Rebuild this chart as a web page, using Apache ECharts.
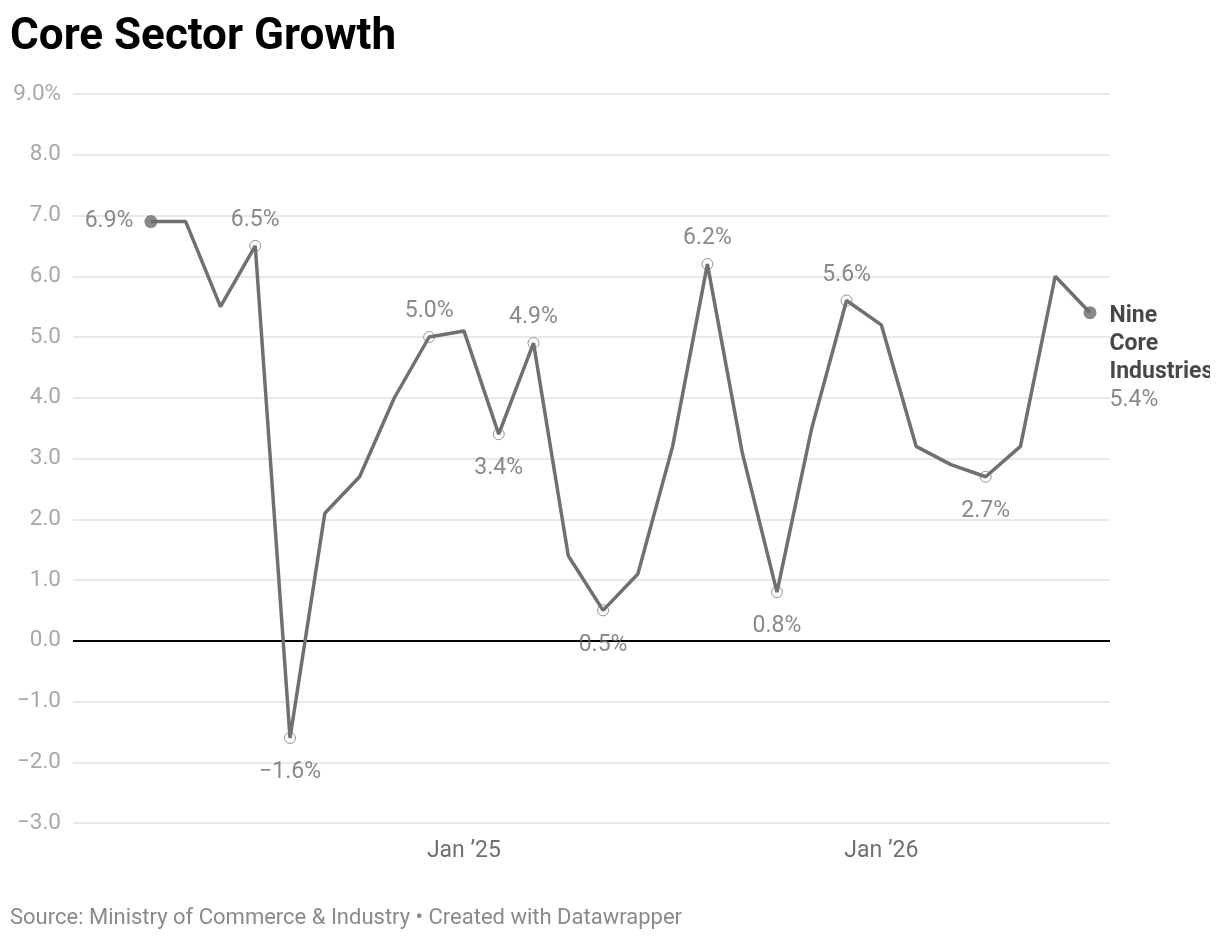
<!DOCTYPE html>
<html>
<head>
<meta charset="utf-8">
<script src="https://cdn.jsdelivr.net/npm/echarts@6/dist/echarts.min.js"></script>
<style>
html,body{margin:0;padding:0;background:#fff;overflow:hidden;}
#chart{width:1210px;height:940px;}
</style>
</head>
<body>
<div id="chart"></div>
<script>
// ---- data ----
const months = ['Apr 2024','May 2024','Jun 2024','Jul 2024','Aug 2024','Sep 2024','Oct 2024','Nov 2024','Dec 2024',
  'Jan 2025','Feb 2025','Mar 2025','Apr 2025','May 2025','Jun 2025','Jul 2025','Aug 2025','Sep 2025','Oct 2025','Nov 2025','Dec 2025',
  'Jan 2026','Feb 2026','Mar 2026','Apr 2026','May 2026','Jun 2026','Jul 2026'];
const growth = [6.9, 6.9, 5.5, 6.5, -1.6, 2.1, 2.7, 4.0, 5.0, 5.1, 3.4, 4.9, 1.4, 0.5, 1.1, 3.2, 6.2, 3.1, 0.8, 3.5, 5.6, 5.2, 3.2, 2.9, 2.7, 3.2, 6.0, 5.4];
const annotatedIdx = [3, 4, 8, 10, 11, 13, 16, 18, 20, 24];
const xTickMonths = ['Jan 2025', 'Jan 2026'];
const xTickLabels = ['Jan \u201925', 'Jan \u201926'];
const yTicks = [-3, -2, -1, 0, 1, 2, 3, 4, 5, 6, 7, 8, 9];
const seriesName = 'Nine Core Industries';
const titleText = 'Core Sector Growth';
const sourceText = 'Source: Ministry of Commerce & Industry \u2022 Created with Datawrapper';

// ---- helpers ----
const FONT = 'Roboto, "Noto Sans", sans-serif';
const LINE = '#707070';
const LABEL_SIZE = 23;
const fmtNum = v => (v < 0 ? '\u2212' : '') + Math.abs(v).toFixed(1);
const fmtPct = v => fmtNum(v) + '%';
const xTickIdx = xTickMonths.map(m => months.indexOf(m));
const lastI = growth.length - 1;

const hollowData = annotatedIdx.map(i => {
  const above = growth[i] >= growth[i - 1];
  return {
    value: [i, growth[i]],
    label: {
      show: true,
      position: above ? 'top' : 'bottom',
      distance: above ? 8 : 17,
      formatter: fmtPct(growth[i])
    }
  };
});

const chart = echarts.init(document.getElementById('chart'), null, {renderer: 'canvas'});
chart.setOption({
  animation: false,
  backgroundColor: '#fff',
  title: {
    text: titleText,
    left: 10, top: 16, padding: 0,
    textStyle: {fontFamily: FONT, fontSize: 44, fontWeight: 'bold', color: '#000'}
  },
  graphic: [{
    type: 'text', left: 10, top: 907,
    style: {text: sourceText, font: '22px ' + FONT, fill: '#8a8a8a'}
  }],
  grid: {left: 73, right: 100, top: 94, bottom: 117, containLabel: false},
  xAxis: {
    type: 'value',
    min: -2.24, max: 27.575,
    axisLine: {show: false},
    axisTick: {show: false},
    splitLine: {show: false},
    axisLabel: {
      customValues: xTickIdx,
      formatter: v => xTickLabels[xTickIdx.indexOf(Math.round(v))] || '',
      fontFamily: FONT, fontSize: LABEL_SIZE, color: '#707070', margin: 17
    }
  },
  yAxis: {
    type: 'value',
    min: yTicks[0], max: yTicks[yTicks.length - 1], interval: 1,
    axisLine: {show: false},
    axisTick: {show: false},
    splitLine: {lineStyle: {color: '#e2e2e2', width: 1.5}},
    axisLabel: {
      formatter: v => v === yTicks[yTicks.length - 1] ? fmtPct(v) : fmtNum(v),
      fontFamily: FONT, fontSize: 22.5, color: '#a8a8a8', margin: 12,
      padding: [3, 0, 0, 0]
    }
  },
  series: [
    {
      type: 'line',
      name: seriesName,
      data: growth.map((v, i) => [i, v]),
      showSymbol: false,
      symbol: 'none',
      lineStyle: {color: LINE, width: 3.5},
      z: 3,
      markLine: {
        silent: true, symbol: 'none',
        label: {show: false},
        lineStyle: {color: '#000', width: 2, type: 'solid'},
        data: [{yAxis: 0}],
        z: 1
      }
    },
    {
      type: 'scatter',
      data: hollowData,
      symbol: 'circle',
      symbolSize: 11,
      itemStyle: {color: '#fff', borderColor: '#7a7a7a', borderWidth: 1},
      label: {fontFamily: FONT, fontSize: LABEL_SIZE, color: '#6b6b6b'},
      z: 2
    },
    {
      type: 'scatter',
      data: [
        {value: [0, growth[0]], label: {show: true, position: 'left', distance: 11, formatter: fmtPct(growth[0])}},
        {value: [lastI, growth[lastI]], label: {
          show: true, position: [26, -4], align: 'left', verticalAlign: 'top',
          formatter: seriesName.split(' ').map(w => '{b|' + w + '}').join('\n') + '\n{v|' + fmtPct(growth[lastI]) + '}',
          rich: {
            b: {fontFamily: FONT, fontSize: LABEL_SIZE, fontWeight: 'bold', color: '#1a1a1a', lineHeight: 28},
            v: {fontFamily: FONT, fontSize: LABEL_SIZE, color: '#6b6b6b', lineHeight: 28}
          }
        }}
      ],
      symbol: 'circle',
      symbolSize: 13,
      itemStyle: {color: '#6b6b6b'},
      label: {fontFamily: FONT, fontSize: LABEL_SIZE, color: '#6b6b6b'},
      z: 4
    }
  ]
});
</script>
</body>
</html>
